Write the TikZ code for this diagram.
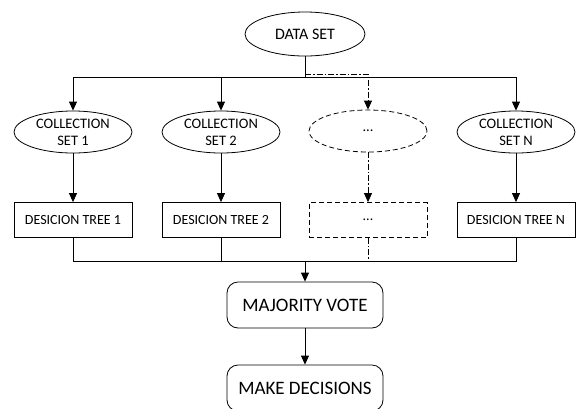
\documentclass[tikz,border=0pt]{standalone}
\usepackage{fontspec}
\setmainfont{Carlito}
\usetikzlibrary{shapes.geometric,arrows.meta}
\begin{document}
\begin{tikzpicture}[x=1pt,y=-1pt,line width=0.8pt,
  arr/.style={-{Triangle[length=9pt,width=8pt]}},
  dashdot/.style={dash pattern=on 6pt off 2pt on 1.5pt off 2pt},
  dashbox/.style={dash pattern=on 5pt off 3pt},
  ell/.style={draw,ellipse,inner sep=0pt,minimum width=118pt,minimum height=42pt,align=center,font=\fontsize{14.5}{17}\selectfont},
  box/.style={draw,rectangle,inner sep=0pt,minimum width=118pt,minimum height=35pt,font=\fontsize{14}{16}\selectfont},
  rbox/.style={draw,rectangle,rounded corners=11pt,inner sep=0pt,minimum width=156pt,minimum height=46pt,font=\fontsize{19}{22}\selectfont}]
\useasboundingbox (0,0) rectangle (576,408);
\node[ell,minimum width=120pt,minimum height=44pt,font=\fontsize{16}{18}\selectfont] (ds) at (305,34) {DATA SET};
\node[ell] (c1) at (73,132) {COLLECTION\\SET 1};
\node[ell] (c2) at (221,132) {COLLECTION\\SET 2};
\node[ell,dashbox] (c3) at (368,131) {...};
\node[ell] (cN) at (516,132) {COLLECTION\\SET N};
\node[box] (t1) at (73,220) {DESICION TREE 1};
\node[box] (t2) at (221,220) {DESICION TREE 2};
\node[box,dashbox] (t3) at (368,220) {...};
\node[box] (tN) at (516,220) {DESICION TREE N};
\node[rbox] (mv) at (305,305) {MAJORITY VOTE};
\node[rbox] (md) at (305,388) {MAKE DECISIONS};
\coordinate (b) at (305,77);
\coordinate (bd) at (305,74);
\coordinate (b2) at (305,261);
\draw (ds) -- (b);
\draw[arr] (b) -| (c1.north);
\draw[arr] (b) -| (c2.north);
\draw[arr] (b) -| (cN.north);
\draw[arr,dashdot] (bd) -| (c3.north);
\draw[arr] (c1) -- (t1);
\draw[arr] (c2) -- (t2);
\draw[arr,dashdot] (c3) -- (t3);
\draw[arr] (cN) -- (tN);
\draw (t1.south) |- (b2);
\draw (t2.south) |- (b2);
\draw (tN.south) |- (b2);
\draw[dashdot] (t3.south) -- (t3.south |- b2);
\draw[arr] (b2) -- (mv);
\draw[arr] (mv) -- (md);
\end{tikzpicture}
\end{document}
